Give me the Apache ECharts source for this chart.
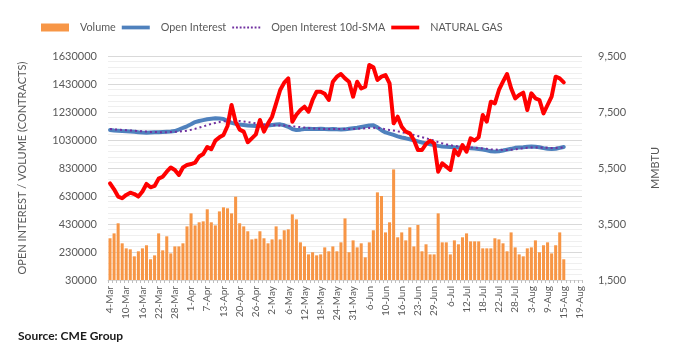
<!DOCTYPE html>
<html><head><meta charset="utf-8">
<script src="https://cdn.jsdelivr.net/npm/echarts@6/dist/echarts.min.js"></script>
<style>html,body{margin:0;padding:0;background:#fff}#c{width:678px;height:359px}</style>
</head><body><div id="c"></div>
<script>
const categories = [
'4-Mar','7-Mar','8-Mar','9-Mar','10-Mar','11-Mar','14-Mar','15-Mar','16-Mar','17-Mar','18-Mar','21-Mar','22-Mar','23-Mar','24-Mar','25-Mar','28-Mar','29-Mar','30-Mar','31-Mar',
'1-Apr','4-Apr','5-Apr','6-Apr','7-Apr','8-Apr','11-Apr','12-Apr','13-Apr','14-Apr','18-Apr','19-Apr','20-Apr','21-Apr','22-Apr','25-Apr','26-Apr','27-Apr','28-Apr','29-Apr',
'2-May','3-May','4-May','5-May','6-May','9-May','10-May','11-May','12-May','13-May','16-May','17-May','18-May','19-May','20-May','23-May','24-May','25-May','26-May','27-May','31-May',
'1-Jun','2-Jun','3-Jun','6-Jun','7-Jun','8-Jun','9-Jun','10-Jun','13-Jun','14-Jun','15-Jun','16-Jun','17-Jun','21-Jun','22-Jun','23-Jun','24-Jun','27-Jun','28-Jun','29-Jun','30-Jun',
'1-Jul','5-Jul','6-Jul','7-Jul','8-Jul','11-Jul','12-Jul','13-Jul','14-Jul','15-Jul','18-Jul','19-Jul','20-Jul','21-Jul','22-Jul','25-Jul','26-Jul','27-Jul','28-Jul','29-Jul',
'1-Aug','2-Aug','3-Aug','4-Aug','5-Aug','8-Aug','9-Aug','10-Aug','11-Aug','12-Aug','15-Aug','16-Aug','17-Aug','18-Aug','19-Aug'];

const volume = [
328000,363000,435000,292000,256000,249000,199000,235000,256000,278000,178000,206000,363000,242000,342000,220000,270000,270000,292000,413000,
506000,420000,442000,449000,535000,442000,420000,520000,549000,542000,506000,625000,435000,413000,378000,320000,325000,378000,328000,292000,
320000,413000,320000,385000,392000,499000,463000,299000,270000,213000,228000,206000,213000,263000,235000,270000,235000,299000,470000,228000,313000,
263000,292000,192000,299000,385000,656000,630000,370000,442000,820000,335000,370000,313000,406000,270000,423000,235000,285000,213000,213000,506000,
299000,299000,213000,313000,285000,335000,363000,306000,306000,306000,256000,256000,256000,328000,320000,292000,235000,370000,263000,213000,
199000,256000,263000,313000,228000,278000,299000,220000,278000,370000,178000];

const openInterest = [
1101000,1098000,1096000,1094000,1093000,1091000,1089000,1085000,1083000,1082000,1084000,1086000,1085000,1087000,1089000,1091000,1094000,1105000,1116000,1128000,
1142000,1158000,1166000,1172000,1178000,1182000,1185000,1184000,1180000,1165000,1152000,1145000,1140000,1137000,1134000,1132000,1130000,1131000,1133000,1134000,
1137000,1140000,1142000,1135000,1124000,1108000,1101000,1104000,1108000,1110000,1108000,1109000,1110000,1108000,1107000,1108000,1106000,1105000,1106000,1110000,1114000,
1118000,1123000,1128000,1133000,1135000,1120000,1100000,1084000,1075000,1066000,1056000,1048000,1042000,1035000,1028000,1020000,1012000,1006000,1000000,994000,988000,
984000,982000,980000,978000,977000,975000,973000,971000,970000,966000,962000,956000,950000,947000,950000,955000,961000,967000,974000,977000,
979000,982000,983000,981000,978000,972000,967000,965000,968000,974000,980000];

const oiSma10 = [
1108000,1106000,1104000,1102000,1100000,1098000,1096000,1094000,1092000,1090000,1088000,1087000,1086000,1086000,1086000,1087000,1088000,1090000,1093000,1097000,
1103000,1110000,1118000,1127000,1136000,1145000,1152000,1158000,1163000,1166000,1168000,1168000,1166000,1162000,1158000,1153000,1149000,1145000,1141000,1138000,
1136000,1135000,1134000,1133000,1131000,1128000,1125000,1122000,1119000,1116000,1113000,1111000,1110000,1109000,1109000,1108000,1108000,1108000,1108000,1108000,1109000,
1110000,1112000,1114000,1116000,1117000,1116000,1112000,1107000,1102000,1098000,1092000,1085000,1080000,1073000,1066000,1058000,1050000,1042000,1034000,1025000,1015000,
1006000,999000,993000,988000,984000,981000,979000,977000,975000,973000,970000,967000,964000,962000,960000,959000,958000,960000,963000,967000,
971000,974000,976000,977000,976000,975000,974000,973000,973000,975000,977000];

const naturalGas = [
4952,4740,4480,4420,4540,4620,4570,4480,4660,4930,4810,4860,5120,5190,5370,5520,5430,5250,5520,5610,
5640,5690,5910,6000,6250,6170,6480,6595,6680,7000,7750,7150,6870,6800,6420,6560,6700,7214,6800,7095,
7333,7810,8286,8550,8700,7150,7400,7571,7690,7512,7929,8226,8226,8150,7929,8583,8762,8857,8702,8583,8048,
8583,8345,8405,9179,9100,8643,8762,8821,8524,7095,7333,6976,6798,6738,6500,6143,6143,6357,6476,6381,5369,
5667,5550,5429,6143,5964,6321,6083,6560,6480,6600,7390,7155,7869,7810,8286,8583,8857,8350,7988,8107,
8190,7571,8167,7988,7929,7452,7750,8048,8762,8700,8560];

const FONT = 'Lato';
const GRAY = '#595959';
const C_VOL = '#F79646', C_OI = '#4F81BD', C_SMA = '#7030A0', C_NG = '#FF0000';
const solidIcon = 'path://M0,0M30,8M0,2H30V6H0Z';
const dotIcon = 'path://M0,0M30,8M0,3h2v2h-2zM4,3h2v2h-2zM8,3h2v2h-2zM12,3h2v2h-2zM16,3h2v2h-2zM20,3h2v2h-2zM24,3h2v2h-2zM28,3h2v2h-2z';

const chart = echarts.init(document.getElementById('c'), null, {renderer: 'canvas'});
chart.setOption({
  animation: false,
  backgroundColor: '#ffffff',
  textStyle: {fontFamily: FONT},
  legend: {
    left: 41, top: 22, padding: 0, itemWidth: 28, itemHeight: 8, itemGap: 6,
    textStyle: {color: GRAY, fontSize: 10.8, fontFamily: FONT, padding: [0, 0, 0, 6]},
    data: [
      {name: 'Volume', icon: 'rect', itemStyle: {color: C_VOL, borderWidth: 0}},
      {name: 'Open Interest', icon: solidIcon, itemStyle: {color: C_OI, borderWidth: 0}},
      {name: 'Open Interest 10d-SMA', icon: dotIcon, itemStyle: {color: C_SMA, borderWidth: 0}},
      {name: 'NATURAL GAS', icon: solidIcon, itemStyle: {color: C_NG, borderWidth: 0}}
    ]
  },
  grid: {left: 108, right: 96, top: 56, bottom: 79},
  xAxis: {
    type: 'category', data: categories, boundaryGap: true,
    axisLine: {lineStyle: {color: '#d9d9d9'}},
    axisTick: {show: true, interval: 0, length: 3, lineStyle: {color: '#bfbfbf'}},
    axisLabel: {interval: 3, rotate: 90, fontSize: 10, color: GRAY, fontFamily: FONT, margin: 6}
  },
  yAxis: [{
    type: 'value', min: 30000, max: 1630000, interval: 200000,
    name: 'OPEN INTEREST / VOLUME (CONTRACTS)', nameLocation: 'middle', nameRotate: 90, nameGap: 80,
    nameTextStyle: {color: GRAY, fontSize: 11, fontFamily: FONT},
    axisLine: {show: false}, axisTick: {show: false},
    axisLabel: {color: GRAY, fontSize: 11, fontFamily: FONT, margin: 11, formatter: v => String(v)},
    splitLine: {show: true, lineStyle: {color: '#d9d9d9'}},
    minorTick: {show: false, splitNumber: 5},
    minorSplitLine: {show: true, lineStyle: {color: '#efefef'}}
  }, {
    type: 'value', min: 1500, max: 9500, interval: 2000, position: 'right',
    name: 'MMBTU', nameLocation: 'middle', nameRotate: 90, nameGap: 68,
    nameTextStyle: {color: GRAY, fontSize: 11, fontFamily: FONT},
    axisLine: {show: false}, axisTick: {show: false},
    axisLabel: {color: GRAY, fontSize: 11, fontFamily: FONT, margin: 16, formatter: v => v.toLocaleString('en-US')},
    splitLine: {show: false}
  }],
  series: [{
    name: 'Volume', type: 'bar', yAxisIndex: 0, data: volume,
    itemStyle: {color: C_VOL}, barCategoryGap: '25%'
  }, {
    name: 'Open Interest', type: 'line', yAxisIndex: 0, data: openInterest,
    symbol: 'none', lineStyle: {color: C_OI, width: 4, join: 'round', cap: 'round'}, itemStyle: {color: C_OI}
  }, {
    name: 'Open Interest 10d-SMA', type: 'line', yAxisIndex: 0, data: oiSma10,
    symbol: 'none', lineStyle: {color: C_SMA, width: 2, type: [2, 3]}, itemStyle: {color: C_SMA}
  }, {
    name: 'NATURAL GAS', type: 'line', yAxisIndex: 1, data: naturalGas,
    symbol: 'none', lineStyle: {color: C_NG, width: 4, join: 'round', cap: 'round'}, itemStyle: {color: C_NG}
  }],
  graphic: [{
    type: 'text', left: 18, top: 330,
    style: {text: 'Source: CME Group', fill: '#1a1a1a', font: 'bold 12px ' + FONT}
  }]
});
</script></body></html>
